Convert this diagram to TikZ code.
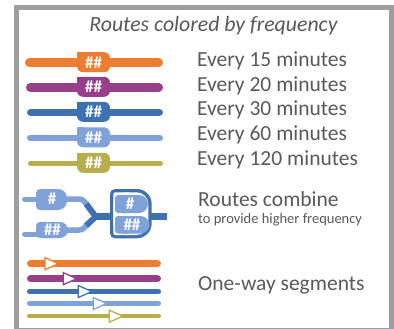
\documentclass[tikz,border=0pt]{standalone}
\usepackage{fontspec}
\setmainfont{Carlito}
\definecolor{corange}{RGB}{237,125,49}
\definecolor{cpurple}{RGB}{150,64,139}
\definecolor{cdkblue}{RGB}{62,113,178}
\definecolor{cltblue}{RGB}{127,163,216}
\definecolor{colive}{RGB}{184,174,77}
\definecolor{cframe}{RGB}{158,158,160}
\definecolor{ctext}{RGB}{89,89,89}
\newcommand\freqrow[5]{% color, center y, bar width, x-left, label name
  \draw[#1, line width=#3, line cap=round] (#4+#3/2,#2) -- (163-#3/2,#2);
  \fill[#1, rounded corners=6] (77,#2-10.5) rectangle (110,#2+9.5);
  \fill[#1] (77,#2-10.5) rectangle (84,#2-3);
  \node[hashtxt] (#5) at (93.5,#2-0.5) {\#\#};
}
\newcommand\onewayrow[5]{% color, center y, width, arrow base x, name
  \draw[#1, line width=#3, line cap=round] (27+#3/2,#2) -- (161-#3/2,#2);
  \draw[#1, fill=white, line width=1.3, line join=miter] (#4,#2-6) -- (#4,#2+6) -- (#4+13.5,#2) -- cycle;
  \coordinate (#5) at (#4,#2);
}
\begin{document}
\begin{tikzpicture}[x=1pt,y=-1pt,
  hashtxt/.style={text=white, font=\fontsize{17}{18}\selectfont\bfseries, inner sep=0},
  lbl/.style={text=ctext, font=\fontsize{21.5}{24}\selectfont, anchor=base west, inner sep=0},
  smalllbl/.style={text=ctext, font=\fontsize{14.5}{16}\selectfont, anchor=base west, inner sep=0}]
\useasboundingbox (0,0) rectangle (394,329);
\begin{scope}
  \clip (0,0) rectangle (394,329);
  \draw[cframe, line width=5] (16.5,7.5) rectangle (391.5,330.5);
\end{scope}
% title
\node[text=ctext, font=\fontsize{21.8}{24}\selectfont\itshape, anchor=base, inner sep=0] (title) at (213.5,31.7) {Routes colored by frequency};
% frequency rows
\freqrow{corange}{62.7}{9}{25}{b1}
\freqrow{cpurple}{87.3}{9}{26}{b2}
\freqrow{cdkblue}{112.3}{7.5}{27}{b3}
\freqrow{cltblue}{137.8}{6}{27}{b4}
\freqrow{colive}{163.3}{5}{28}{b5}
\node[lbl] (t1) at (197,66.7) {Every 15 minutes};
\node[lbl] (t2) at (197,91.3) {Every 20 minutes};
\node[lbl] (t3) at (197,116) {Every 30 minutes};
\node[lbl] (t4) at (197,140.6) {Every 60 minutes};
\node[lbl] (t5) at (197,165.2) {Every 120 minutes};
% combine
\draw[cltblue, line width=5, line cap=round] (24.5,199) -- (40,199);
\draw[cltblue, line width=5, line cap=round] (24.5,234) -- (40,234);
\fill[cltblue, rounded corners=9] (36,189) rectangle (67,210);
\fill[cltblue, rounded corners=4] (36,189) rectangle (55,210);
\fill[cltblue, rounded corners=8] (36,222) rectangle (68,238);
\fill[cltblue, rounded corners=4] (36,222) rectangle (55,238);
\draw[cltblue, line width=5.5] (60,199) -- (79,199) .. controls (83,199) and (84.5,201.5) .. (87,205);
\draw[cltblue, line width=5.5] (60,230) -- (79,230) .. controls (83,230) and (84.5,227.5) .. (87,224.5);
\draw[cdkblue, line width=6] (86.2,204) -- (96,217);
\draw[cdkblue, line width=6] (86.2,225.5) -- (96,216.5);
\draw[cdkblue, line width=7] (94,216.7) -- (112,216.7);
\draw[cdkblue, line width=7] (150,216.7) -- (166.7,216.7);
\fill[cdkblue, rounded corners=15] (110,189) rectangle (151.7,238.3);
\fill[cdkblue, rounded corners=5] (110,189) rectangle (130,238.3);
\fill[white, rounded corners=12] (113.3,192.3) rectangle (148.4,235);
\fill[white, rounded corners=2] (113.3,192.3) rectangle (130,235);
\fill[cltblue, rounded corners=9] (115,195) rectangle (148,213);
\fill[cltblue, rounded corners=3] (115,195) rectangle (130,213);
\fill[cltblue, rounded corners=9] (115,216) rectangle (149.5,233.5);
\fill[cltblue, rounded corners=3] (115,216) rectangle (130,233.5);
\node[hashtxt] (h1) at (52,198.5) {\#};
\node[hashtxt] (h2) at (52.5,229.5) {\#\#};
\node[hashtxt] (h3) at (130,204) {\#};
\node[hashtxt] (h4) at (132,225) {\#\#};
\node[lbl] (t6) at (198,206.7) {Routes combine};
\node[smalllbl] (t7) at (198,223) {to provide higher frequency};
% one-way
\onewayrow{corange}{263.7}{7.3}{45}{o1}
\onewayrow{cpurple}{278.7}{7.3}{63.3}{o2}
\onewayrow{cdkblue}{291.5}{4.7}{78.3}{o3}
\onewayrow{cltblue}{303.5}{4.7}{93.3}{o4}
\onewayrow{colive}{316.2}{3.5}{109.3}{o5}
\node[lbl] (t8) at (198,290) {One-way segments};
\end{tikzpicture}
\end{document}
